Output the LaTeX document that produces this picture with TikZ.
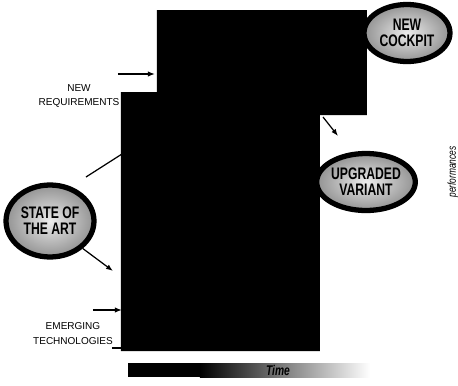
\documentclass[tikz,border=0pt]{standalone}
\usepackage{fontspec}
\setmainfont{Liberation Sans}
\newfontfamily\narrowfont[FakeStretch=0.73]{Liberation Sans}
\usetikzlibrary{shapes.geometric, arrows.meta, positioning}

\begin{document}
\begin{tikzpicture}[
  x=0.02cm, y=-0.02cm,
  bubble/.style={ellipse, draw=black, line width=3pt, inner color=gray!15, outer color=gray!85, minimum width=1.72cm, minimum height=1.14cm, inner sep=0pt, align=center, font=\narrowfont\bfseries\fontsize{9.5}{9}\selectfont},
  note/.style={align=center, font=\fontsize{5.7}{8.5}\selectfont},
  arrow/.style={-{Latex[length=4pt, width=3pt]}, line width=0.7pt},
  link/.style={line width=0.7pt}
]
\useasboundingbox (0,0) rectangle (458,386);

\fill[black] (157,10) -- (367,10) -- (367,115) -- (320,115) -- (320,351) -- (121,351) -- (121,92) -- (157,92) -- cycle;

\node (cockpit) [bubble] at (407,33) {NEW\\COCKPIT};
\node (variant) [bubble] at (366,182) {UPGRADED\\VARIANT};
\node (art) [bubble, minimum width=1.76cm, minimum height=1.44cm] at (50,221) {STATE OF\\THE ART};

\node (newreq) [note] at (79,96) {NEW\\REQUIREMENTS};
\node (emerging) [note] at (73,334) {EMERGING\\TECHNOLOGIES};
\node (perf) [rotate=90, font=\narrowfont\itshape\fontsize{6.5}{8}\selectfont] at (453,172) {performances};

\coordinate (reqstart) at (118,74);
\coordinate (reqend) at (155,74);
\coordinate (artline) at (86,177);
\coordinate (shapeleft) at (122,154);
\coordinate (artend) at (113,271);
\coordinate (emstart) at (93,310);
\coordinate (emend) at (122,310);
\coordinate (techa) at (112,348);
\coordinate (techb) at (121,348);
\coordinate (upstart) at (323,117);
\coordinate (upend) at (338,136);

\draw [arrow] (reqstart) -- (reqend);
\draw [link] (artline) -- (shapeleft);
\draw [arrow] (art.-40) -- (artend);
\draw [arrow] (emstart) -- (emend);
\draw [link] (techa) -- (techb);
\draw [arrow] (upstart) -- (upend);

% time bar
\fill[black] (128,363) rectangle (200,377);
\shade[left color=black, right color=white] (200,363) rectangle (370,377);
\node (time) [font=\narrowfont\bfseries\itshape\fontsize{8}{8}\selectfont] at (278,370) {Time};

\end{tikzpicture}
\end{document}
